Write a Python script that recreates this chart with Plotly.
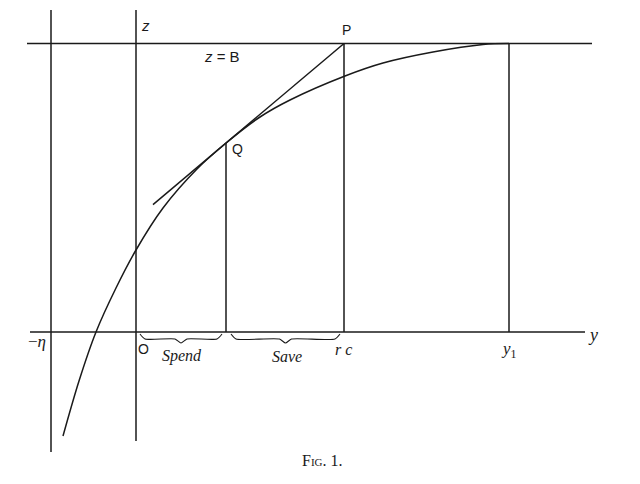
import plotly.graph_objects as go

# values (horizontal axis y, vertical axis z)
curve_y = [-7.3, -5.7, -4.0, -2.0, 0.0, 2.7, 6.1, 9.0, 12.4, 15.4, 20.9, 24.7, 29.7, 34.7, 37.3]
curve_z = [-10.4, -4.9, 0.0, 4.4, 8.2, 12.4, 16.3, 18.9, 21.5, 23.2, 25.6, 26.9, 28.0, 28.75, 28.85]

B = 28.85          # z = B, the bliss level
eta = 8.5          # -eta on the y axis
Q = (9.0, 18.9)    # point of tangency
P = (20.8, B)      # r c on the y axis, P on z = B
y1 = 37.3
tangent_start = 1.7

ink = '#1a1a1a'
lw = 1.5


def seg(fig, xs, zs, shape='linear'):
    fig.add_trace(go.Scatter(x=xs, y=zs, mode='lines',
                             line=dict(color=ink, width=lw, shape=shape, smoothing=0.9),
                             hoverinfo='skip', showlegend=False))


def brace(fig, a, b):
    m = (a + b) / 2
    xs = [a, a + 0.5, m - 0.6, m, m + 0.6, b - 0.5, b]
    zs = [-0.2, -0.7, -0.7, -1.1, -0.7, -0.7, -0.2]
    fig.add_trace(go.Scatter(x=xs, y=zs, mode='lines',
                             line=dict(color=ink, width=1.1, shape='spline', smoothing=0.6),
                             hoverinfo='skip', showlegend=False))


fig = go.Figure()

# frame lines
seg(fig, [-10.9, 45.6], [B, B])
seg(fig, [-10.6, 44.9], [0, 0])
seg(fig, [-eta, -eta], [32.2, -12.0])
seg(fig, [0, 0], [32.2, -10.9])
seg(fig, [Q[0], Q[0]], [0, Q[1]])
seg(fig, [P[0], P[0]], [0, P[1]])
seg(fig, [y1, y1], [0, B])

# utility curve
seg(fig, curve_y, curve_z, shape='spline')

# tangent through Q and P
k = (P[1] - Q[1]) / (P[0] - Q[0])
seg(fig, [tangent_start, P[0]], [Q[1] - k * (Q[0] - tangent_start), P[1]])

brace(fig, 0.4, Q[0] - 0.4)
brace(fig, Q[0] + 0.5, P[0] - 0.4)

serif = 'Liberation Serif'
sans = 'Liberation Sans'
labels = [
    (0.9, 30.7, '<i>z</i>', sans, 15),
    (8.6, 27.6, '<i>z</i> = B', sans, 15),
    (21.0, 30.2, 'P', sans, 14),
    (10.1, 18.3, 'Q', sans, 14),
    (0.7, -1.7, 'O', sans, 14),
    (-9.9, -0.9, '−<i>η</i>', serif, 17),
    (4.6, -2.4, '<i>Spend</i>', serif, 16),
    (15.1, -2.4, '<i>Save</i>', serif, 16),
    (20.7, -1.7, '<i>r c</i>', serif, 16),
    (37.3, -1.8, '<i>y</i><sub>1</sub>', serif, 17),
    (45.7, -0.3, '<i>y</i>', serif, 18),
]
for x, z, t, fam, sz in labels:
    fig.add_annotation(x=x, y=z, text=t, showarrow=False,
                       font=dict(family=fam, size=sz, color=ink))

fig.add_annotation(x=18.6, y=-12.8, text='Fig. 1.', showarrow=False,
                   font=dict(family=serif, size=16, color=ink, variant='small-caps'))

fig.update_layout(width=640, height=484, margin=dict(l=0, r=0, t=0, b=0),
                  plot_bgcolor='white', paper_bgcolor='white', template=None)
# ranges offset by the page's 8px body margin
fig.update_xaxes(range=[-12.8, 51.2], visible=False)
fig.update_yaxes(range=[-16.0, 32.4], visible=False)

fig.write_html("out.html")
